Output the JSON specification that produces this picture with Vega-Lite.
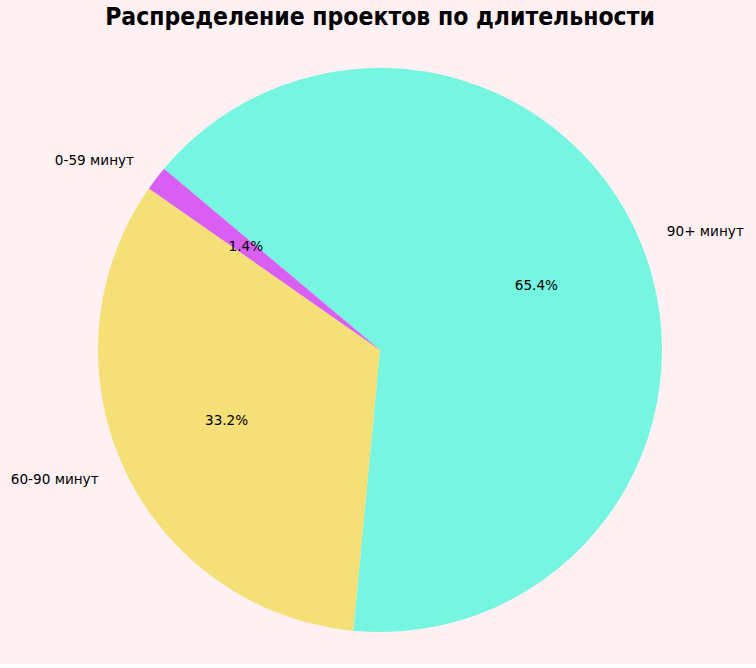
{
  "$schema": "https://vega.github.io/schema/vega-lite/v6.json",
  "width": 760,
  "height": 628,
  "padding": {"top": 4, "left": 0, "right": 0, "bottom": 0},
  "background": "#fff0f3",
  "title": {
    "text": "Распределение проектов по длительности",
    "fontSize": 24.5,
    "font": "Liberation Sans Narrow, DejaVu Sans Condensed, sans-serif",
    "fontWeight": "bold",
    "color": "#000000",
    "anchor": "middle",
    "offset": 6
  },
  "data": {
    "values": [
      {"label": "90+ минут", "share": 0.654},
      {"label": "60-90 минут", "share": 0.332},
      {"label": "0-59 минут", "share": 0.014}
    ]
  },
  "encoding": {
    "theta": {"field": "share", "type": "quantitative", "stack": true, "scale": {"range": [5.4105, 11.6937]}},
    "order": {"field": "share", "sort": "descending"}
  },
  "layer": [
    {
      "mark": {"type": "arc", "outerRadius": 282, "stroke": null},
      "encoding": {
        "color": {
          "field": "label",
          "type": "nominal",
          "scale": {"domain": ["0-59 минут", "60-90 минут", "90+ минут"], "range": ["#d95ff2", "#f4e076", "#76f5e1"]},
          "legend": null
        }
      }
    },
    {
      "mark": {"type": "text", "radius": 169, "fontSize": 13.6, "font": "DejaVu Sans", "color": "#000000", "align": "center", "baseline": "middle"},
      "encoding": {"text": {"field": "share", "type": "quantitative", "format": ".1%"}}
    },
    {
      "mark": {"type": "text", "radius": 310, "fontSize": 13.6, "font": "DejaVu Sans", "color": "#000000", "align": "left", "baseline": "middle"},
      "encoding": {
        "text": {"field": "label", "type": "nominal"},
        "opacity": {"condition": {"test": "datum.label === '90+ минут'", "value": 1}, "value": 0}
      }
    },
    {
      "mark": {"type": "text", "radius": 310, "fontSize": 13.6, "font": "DejaVu Sans", "color": "#000000", "align": "right", "baseline": "middle"},
      "encoding": {
        "text": {"field": "label", "type": "nominal"},
        "opacity": {"condition": {"test": "datum.label === '90+ минут'", "value": 0}, "value": 1}
      }
    }
  ],
  "config": {"view": {"stroke": null}}
}
